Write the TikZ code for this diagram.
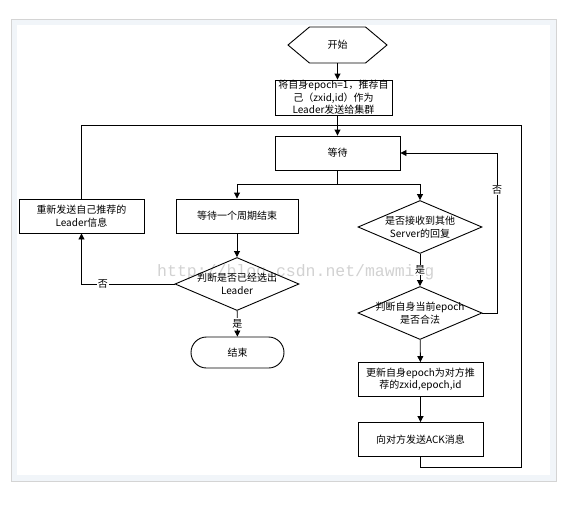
\documentclass[tikz,border=0pt]{standalone}
\usepackage{fontspec}
\newfontfamily\cjk{Noto Sans CJK SC}
\newfontfamily\wmfont{Liberation Mono}
\usetikzlibrary{shapes.geometric,shapes.symbols,shapes.misc,arrows.meta}
\definecolor{band}{HTML}{F1F5F9}
\definecolor{rim}{HTML}{D4D4D4}
\tikzset{
    every node/.style={font=\cjk\fontsize{10}{12.5}\selectfont, align=center,
    	inner sep=1pt}
}
\tikzset{
    procbox/.style={draw, rectangle, line width=0.9pt, minimum width=125pt,
    	minimum height=34pt},
    decide/.style={draw, diamond, aspect=2.34, line width=0.9pt, minimum width=124pt,
    	minimum height=53pt, inner sep=-4pt},
    flow/.style={line width=0.9pt, -{Triangle[width=6pt,length=6pt]}},
    plain/.style={line width=0.9pt},
    tag/.style={fill=white, inner sep=1pt}
}

\begin{document}
\begin{tikzpicture}[x=1pt, y=-1pt]
	\useasboundingbox (0,0) rectangle (574,507);
	% frame
	\draw[rim, fill=band, line width=1pt] (11,19) rectangle (556,481);
	\fill[white] (17,25) rectangle (550,475);

	% watermark
	\node (mark) [font=\wmfont\fontsize{16.5}{18}\selectfont, text=gray!35,
		anchor=base west, inner sep=0pt] at (157, 276) {http://blog.csdn.net/mawming};

	\node (start) [draw, signal, signal to=west and east, signal pointer angle=80,
		line width=0.9pt, minimum width=99pt, minimum height=36pt] at (337.5, 45) {开始};
	\node (init) [procbox, minimum width=117pt, minimum height=35pt, inner sep=0pt]
		at (333.5, 97.5) {将自身epoch=1，推荐自\\己（zxid,id）作为\\Leader发送给集群};
	\node (wait) [procbox] at (337.5, 153) {等待};
	\node (cycle) [procbox, minimum width=122pt] at (237, 216) {等待一个周期结束};
	\node (resend) [procbox] at (81.5, 216) {重新发送自己推荐的\\Leader信息};
	\node (elected) [decide] at (237, 284) {判断是否已经选出\\Leader};
	\node (finish) [draw, rounded rectangle, line width=0.9pt, minimum width=95pt,
		minimum height=31pt] at (237.5, 352.5) {结束};
	\node (recv) [decide] at (420, 227) {是否接收到其他\\Server的回复};
	\node (legal) [decide] at (420, 313) {判断自身当前epoch\\是否合法};
	\node (update) [procbox] at (420.5, 379.5) {更新自身epoch为对方推\\荐的zxid,epoch,id};
	\node (ack) [procbox] at (420.5, 439.5) {向对方发送ACK消息};

	\coordinate (split) at (337.5, 184);
	\coordinate (noright) at (497, 153);
	\coordinate (loopbr) at (521, 467);
	\coordinate (looptl) at (81.5, 125);

	\draw[flow] (start.south) -- (start.south |- init.north);
	\draw[flow] (init.south -| wait.north) -- (wait.north);
	\draw[plain] (wait.south) -- (split);
	\draw[flow] (split) -| (cycle.north);
	\draw[flow] (split) -| (recv.north);
	\draw[flow] (cycle) -- (elected);
	\draw[flow] (elected.west) -| node[tag, pos=0.385] {否} (resend.south);
	\draw[flow] (elected) -- node[tag] {是} (finish);
	\draw[flow] (recv) -- node[tag] {是} (legal);
	\draw[flow] (legal.east) -| node[tag, pos=0.884] {否} (noright) -- (wait.east);
	\draw[flow] (legal) -- (update);
	\draw[flow] (update) -- (ack);
	\draw[plain] (ack.south) |- (loopbr) |- (looptl) -- (resend.north);
\end{tikzpicture}
\end{document}
